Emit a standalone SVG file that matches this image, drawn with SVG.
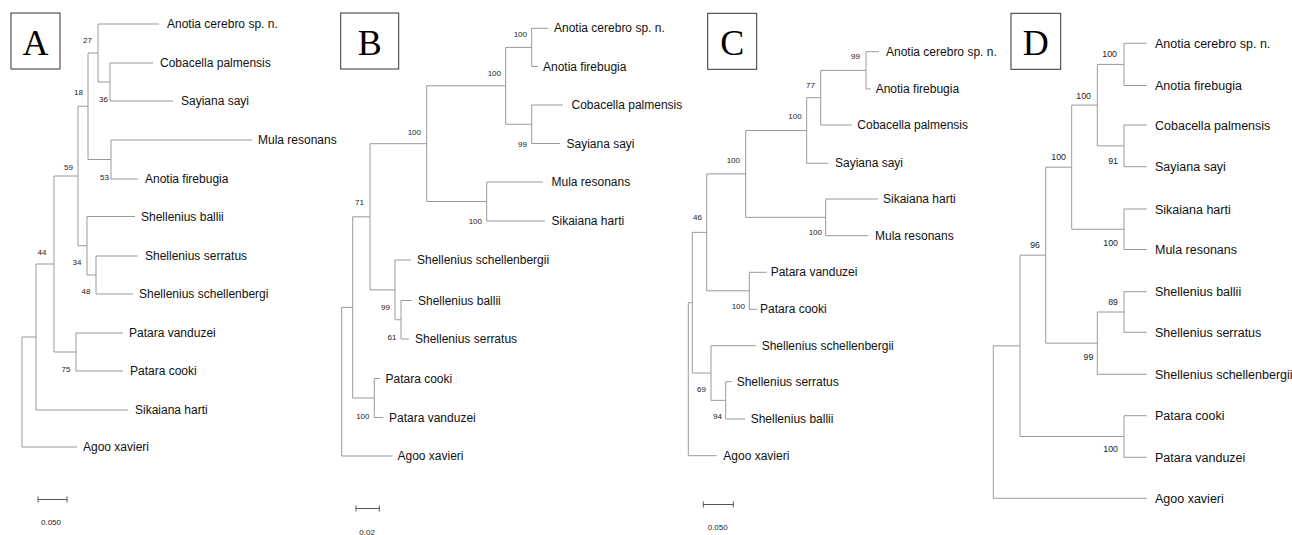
<svg xmlns="http://www.w3.org/2000/svg" width="1292" height="535" viewBox="0 0 1292 535">
<style>
.br{fill:none;stroke:#9a9a9a;stroke-width:1}
.sb{fill:none;stroke:#555;stroke-width:1}
.lf{font-family:"Liberation Sans",Arial,sans-serif;font-size:12px;fill:#111}
.lfd{font-family:"Liberation Sans",Arial,sans-serif;font-size:12.5px;fill:#111}
.bs{font-family:"Liberation Sans",Arial,sans-serif;font-size:8px;fill:#222;text-anchor:end}
.bsd{font-family:"Liberation Sans",Arial,sans-serif;font-size:8.8px;fill:#222;text-anchor:end}
.sc{font-family:"Liberation Sans",Arial,sans-serif;font-size:8px;fill:#222}
.box{fill:#fff;stroke:#333;stroke-width:1}
.let{font-family:"Liberation Serif","Times New Roman",serif;font-size:36px;fill:#000;text-anchor:middle}
</style>
<rect width="1292" height="535" fill="#fff"/>

<!-- Panel A -->
<g id="panelA">
<g id="A-box"><rect class="box" x="11" y="13" width="49" height="56"/><text class="let" x="35.5" y="55">A</text></g>
<g id="A-connectors">
<path class="br" d="M153 63 H110 V101 H173"/>
<path class="br" d="M159 24 H98 V82 H110"/>
<path class="br" d="M252 140 H111 V179 H138"/>
<path class="br" d="M98 53 H88 V159.5 H111"/>
<path class="br" d="M138 256 H96 V294 H133"/>
<path class="br" d="M135 216.5 H87 V275 H96"/>
<path class="br" d="M88 106.25 H78 V245.75 H87"/>
<path class="br" d="M123 333 H76 V371 H123"/>
<path class="br" d="M78 176 H54 V352 H76"/>
<path class="br" d="M54 264 H36 V410 H128"/>
<path class="br" d="M36 337 H22 V447 H77"/>
</g>
<g id="A-support">
<text class="bs" x="92" y="43">27</text>
<text class="bs" x="83" y="95">18</text>
<text class="bs" x="108" y="102">36</text>
<text class="bs" x="109" y="180">53</text>
<text class="bs" x="73" y="170">59</text>
<text class="bs" x="46.5" y="255">44</text>
<text class="bs" x="81.5" y="265">34</text>
<text class="bs" x="90.5" y="294">48</text>
<text class="bs" x="70.5" y="371.5">75</text>
</g>
<g id="A-leaf-cerebro"><text class="lf" x="167" y="28">Anotia cerebro sp. n.</text></g>
<g id="A-leaf-cobacella"><text class="lf" x="160" y="67">Cobacella palmensis</text></g>
<g id="A-leaf-sayi"><text class="lf" x="181" y="105">Sayiana sayi</text></g>
<g id="A-leaf-mula"><text class="lf" x="258" y="144">Mula resonans</text></g>
<g id="A-leaf-firebugia"><text class="lf" x="145" y="183">Anotia firebugia</text></g>
<g id="A-leaf-ballii"><text class="lf" x="141" y="220.5">Shellenius ballii</text></g>
<g id="A-leaf-serratus"><text class="lf" x="145" y="260">Shellenius serratus</text></g>
<g id="A-leaf-schell"><text class="lf" x="139" y="298">Shellenius schellenbergi</text></g>
<g id="A-leaf-vanduzei"><text class="lf" x="129" y="337">Patara vanduzei</text></g>
<g id="A-leaf-cooki"><text class="lf" x="130" y="375">Patara cooki</text></g>
<g id="A-leaf-sikaiana"><text class="lf" x="135" y="414">Sikaiana harti</text></g>
<g id="A-leaf-agoo"><text class="lf" x="83" y="451">Agoo xavieri</text></g>
<g id="A-scale"><path class="sb" d="M38 499.5 H67 M38 496.5 V502.5 M67 496.5 V502.5"/><text class="sc" x="41" y="525">0.050</text></g>
</g>

<!-- Panel B -->
<g id="panelB">
<g id="B-box"><rect class="box" x="340.7" y="13" width="58" height="56"/><text class="let" x="369.7" y="55">B</text></g>
<g id="B-connectors">
<path class="br" d="M548 28.3 H531.7 V66.5 H538"/>
<path class="br" d="M563 105 H531.7 V143.5 H560"/>
<path class="br" d="M531.7 47.4 H505.7 V124.25 H531.7"/>
<path class="br" d="M543 182 H486.7 V221 H545"/>
<path class="br" d="M505.7 85.8 H426.7 V201.5 H486.7"/>
<path class="br" d="M411.7 300.5 H401 V339 H409"/>
<path class="br" d="M411 260 H395 V319.75 H401"/>
<path class="br" d="M426.7 143.7 H370 V289.9 H395"/>
<path class="br" d="M380 378.5 H374.3 V417.5 H383.3"/>
<path class="br" d="M370 216.8 H352.7 V398 H374.3"/>
<path class="br" d="M352.7 307.4 H341.7 V456 H392.7"/>
</g>
<g id="B-support">
<text class="bs" x="527" y="36.5">100</text>
<text class="bs" x="501" y="76">100</text>
<text class="bs" x="527" y="146.5">99</text>
<text class="bs" x="421" y="135">100</text>
<text class="bs" x="482" y="223.5">100</text>
<text class="bs" x="364" y="205">71</text>
<text class="bs" x="390" y="310">99</text>
<text class="bs" x="396.5" y="339.5">61</text>
<text class="bs" x="369.5" y="418.5">100</text>
</g>
<g id="B-leaf-cerebro"><text class="lf" x="554" y="32.3">Anotia cerebro sp. n.</text></g>
<g id="B-leaf-firebugia"><text class="lf" x="543" y="70.5">Anotia firebugia</text></g>
<g id="B-leaf-cobacella"><text class="lf" x="571.5" y="109">Cobacella palmensis</text></g>
<g id="B-leaf-sayi"><text class="lf" x="566.5" y="147.5">Sayiana sayi</text></g>
<g id="B-leaf-mula"><text class="lf" x="551.5" y="186">Mula resonans</text></g>
<g id="B-leaf-sikaiana"><text class="lf" x="551.5" y="225">Sikaiana harti</text></g>
<g id="B-leaf-schell"><text class="lf" x="417" y="264">Shellenius schellenbergii</text></g>
<g id="B-leaf-ballii"><text class="lf" x="418" y="304.5">Shellenius ballii</text></g>
<g id="B-leaf-serratus"><text class="lf" x="415" y="343">Shellenius serratus</text></g>
<g id="B-leaf-cooki"><text class="lf" x="385.5" y="382.5">Patara cooki</text></g>
<g id="B-leaf-vanduzei"><text class="lf" x="389" y="421.5">Patara vanduzei</text></g>
<g id="B-leaf-agoo"><text class="lf" x="397.5" y="460">Agoo xavieri</text></g>
<g id="B-scale"><path class="sb" d="M356 508.5 H379.3 M356 505.5 V511.5 M379.3 505.5 V511.5"/><text class="sc" x="359.3" y="535">0.02</text></g>
</g>

<!-- Panel C -->
<g id="panelC">
<g id="C-box"><rect class="box" x="707.7" y="13.3" width="49" height="56"/><text class="let" x="732.2" y="55.3">C</text></g>
<g id="C-connectors">
<path class="br" d="M879 51.7 H866 V89 H870.7"/>
<path class="br" d="M866 70.35 H820.7 V125 H851.7"/>
<path class="br" d="M820.7 97.7 H806.7 V163.3 H828.3"/>
<path class="br" d="M878 199 H825.7 V235.7 H868"/>
<path class="br" d="M806.7 130.5 H745.7 V217.35 H825.7"/>
<path class="br" d="M766.7 272.3 H749.3 V309.3 H757.3"/>
<path class="br" d="M745.7 173.9 H706.7 V290.8 H749.3"/>
<path class="br" d="M731.7 381.7 H725.7 V419 H745"/>
<path class="br" d="M756 345.7 H711 V400.35 H725.7"/>
<path class="br" d="M706.7 232.35 H692.3 V373 H711"/>
<path class="br" d="M692.3 302.7 H688.3 V455.7 H716.7"/>
</g>
<g id="C-support">
<text class="bs" x="860" y="59">99</text>
<text class="bs" x="815" y="88">77</text>
<text class="bs" x="801.7" y="119">100</text>
<text class="bs" x="740" y="163">100</text>
<text class="bs" x="702" y="220">46</text>
<text class="bs" x="822" y="235">100</text>
<text class="bs" x="745" y="309">100</text>
<text class="bs" x="706" y="391.5">69</text>
<text class="bs" x="722" y="419">94</text>
</g>
<g id="C-leaf-cerebro"><text class="lf" x="886" y="55.7">Anotia cerebro sp. n.</text></g>
<g id="C-leaf-firebugia"><text class="lf" x="875.7" y="93">Anotia firebugia</text></g>
<g id="C-leaf-cobacella"><text class="lf" x="857.3" y="129">Cobacella palmensis</text></g>
<g id="C-leaf-sayi"><text class="lf" x="835" y="167.3">Sayiana sayi</text></g>
<g id="C-leaf-sikaiana"><text class="lf" x="883" y="203">Sikaiana harti</text></g>
<g id="C-leaf-mula"><text class="lf" x="875" y="239.7">Mula resonans</text></g>
<g id="C-leaf-vanduzei"><text class="lf" x="770.7" y="276.3">Patara vanduzei</text></g>
<g id="C-leaf-cooki"><text class="lf" x="760" y="313.3">Patara cooki</text></g>
<g id="C-leaf-schell"><text class="lf" x="761.7" y="349.7">Shellenius schellenbergii</text></g>
<g id="C-leaf-serratus"><text class="lf" x="736.7" y="385.7">Shellenius serratus</text></g>
<g id="C-leaf-ballii"><text class="lf" x="750.7" y="423">Shellenius ballii</text></g>
<g id="C-leaf-agoo"><text class="lf" x="723.3" y="459.7">Agoo xavieri</text></g>
<g id="C-scale"><path class="sb" d="M703.3 504.5 H733.3 M703.3 501.5 V507.5 M733.3 501.5 V507.5"/><text class="sc" x="707.7" y="530">0.050</text></g>
</g>

<!-- Panel D -->
<g id="panelD">
<g id="D-box"><rect class="box" x="1011" y="13.3" width="49.7" height="56"/><text class="let" x="1035.8" y="55.3">D</text></g>
<g id="D-connectors">
<path class="br" d="M1146.7 43.3 H1124 V85.5 H1146.7"/>
<path class="br" d="M1146.7 125 H1124 V166.7 H1146.7"/>
<path class="br" d="M1124 64.4 H1097.3 V145.85 H1124"/>
<path class="br" d="M1146.7 209 H1124 V249.5 H1146.7"/>
<path class="br" d="M1097.3 105.1 H1071.7 V229.25 H1124"/>
<path class="br" d="M1146.7 291.7 H1124 V332.3 H1146.7"/>
<path class="br" d="M1124 312 H1097.3 V374.3 H1146.7"/>
<path class="br" d="M1071.7 167.2 H1045.7 V343.15 H1097.3"/>
<path class="br" d="M1146.7 415.7 H1124 V457.3 H1146.7"/>
<path class="br" d="M1045.7 255.2 H1020 V436.5 H1124"/>
<path class="br" d="M1020 345.85 H993.3 V498.3 H1146.7"/>
</g>
<g id="D-support">
<text class="bsd" x="1117" y="57">100</text>
<text class="bsd" x="1091" y="98.5">100</text>
<text class="bsd" x="1118" y="163.5">91</text>
<text class="bsd" x="1066" y="160">100</text>
<text class="bsd" x="1118" y="245.5">100</text>
<text class="bsd" x="1040" y="247.5">96</text>
<text class="bsd" x="1118" y="305">89</text>
<text class="bsd" x="1093.3" y="359.5">99</text>
<text class="bsd" x="1118" y="451.5">100</text>
</g>
<g id="D-leaf-cerebro"><text class="lfd" x="1155" y="47.8">Anotia cerebro sp. n.</text></g>
<g id="D-leaf-firebugia"><text class="lfd" x="1155" y="90">Anotia firebugia</text></g>
<g id="D-leaf-cobacella"><text class="lfd" x="1155" y="129.5">Cobacella palmensis</text></g>
<g id="D-leaf-sayi"><text class="lfd" x="1155" y="171.2">Sayiana sayi</text></g>
<g id="D-leaf-sikaiana"><text class="lfd" x="1155" y="213.5">Sikaiana harti</text></g>
<g id="D-leaf-mula"><text class="lfd" x="1155" y="254">Mula resonans</text></g>
<g id="D-leaf-ballii"><text class="lfd" x="1155" y="296.2">Shellenius ballii</text></g>
<g id="D-leaf-serratus"><text class="lfd" x="1155" y="336.8">Shellenius serratus</text></g>
<g id="D-leaf-schell"><text class="lfd" x="1155" y="378.8">Shellenius schellenbergii</text></g>
<g id="D-leaf-cooki"><text class="lfd" x="1155" y="420.2">Patara cooki</text></g>
<g id="D-leaf-vanduzei"><text class="lfd" x="1155" y="461.8">Patara vanduzei</text></g>
<g id="D-leaf-agoo"><text class="lfd" x="1155" y="502.8">Agoo xavieri</text></g>
</g>
</svg>
